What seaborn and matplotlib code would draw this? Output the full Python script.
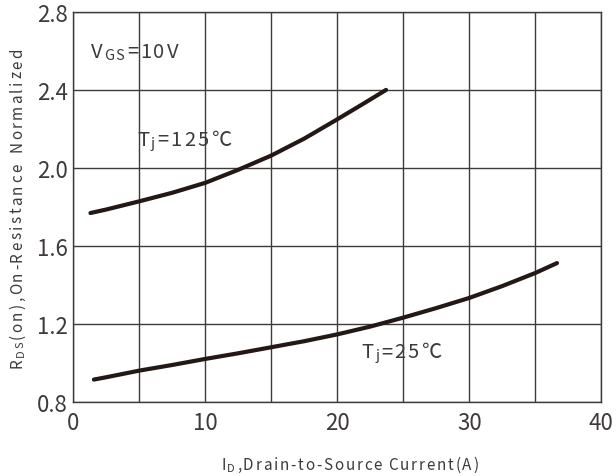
import matplotlib
matplotlib.use("Agg")
import matplotlib.pyplot as plt
import numpy as np
import pandas as pd
import seaborn as sns

# Drain current (A) and normalized on-resistance for each junction temperature
id_125 = [1.3, 2.5, 5.0, 7.5, 10.0, 12.5, 15.0, 17.5, 20.0, 22.0, 23.7]
rds_125 = [1.768, 1.786, 1.828, 1.872, 1.923, 1.99, 2.063, 2.15, 2.249, 2.33, 2.40]

id_25 = [1.56, 2.5, 5.0, 7.5, 10.0, 12.5, 15.0, 17.5, 20.0, 22.5, 25.0, 27.5, 30.0, 32.5, 35.0, 36.65]
rds_25 = [0.913, 0.925, 0.959, 0.988, 1.019, 1.048, 1.079, 1.11, 1.145, 1.185, 1.231, 1.28, 1.332, 1.393, 1.46, 1.511]

x_ticks = [0, 5, 10, 15, 20, 25, 30, 35, 40]
x_tick_labels = ["0", "", "10", "", "20", "", "30", "", "40"]
y_ticks = [0.8, 1.2, 1.6, 2.0, 2.4, 2.8]
y_tick_labels = ["0.8", "1.2", "1.6", "2.0", "2.4", "2.8"]

sns.set_style("white")
plt.rcParams["font.family"] = ["Noto Sans CJK SC", "DejaVu Sans"]

INK = "#231815"
GRID = "#3e3a39"
TEXT = "#3e3a39"

df = pd.concat([
    pd.DataFrame({"ID": id_125, "RDS": rds_125, "Tj": "125"}),
    pd.DataFrame({"ID": id_25, "RDS": rds_25, "Tj": "25"}),
])

fig = plt.figure(figsize=(6.16, 4.77), dpi=100)
ax = fig.add_axes([0.119, 0.156, 0.857, 0.8168])

sns.lineplot(data=df, x="ID", y="RDS", units="Tj", estimator=None,
             color=INK, linewidth=3.0, ax=ax, legend=False, sort=False)

ax.set_xlim(0, 40)
ax.set_ylim(0.8, 2.8)
ax.set_xticks(x_ticks)
ax.set_xticklabels(x_tick_labels)
ax.set_yticks(y_ticks)
ax.set_yticklabels(y_tick_labels)
ax.tick_params(axis="both", length=0, labelsize=16, labelcolor=TEXT)
ax.tick_params(axis="x", pad=7)
ax.tick_params(axis="y", pad=4)
ax.grid(True, color=GRID, linewidth=1.0)
ax.set_axisbelow(True)
for s in ax.spines.values():
    s.set_color(GRID)
    s.set_linewidth(1.0)
ax.set_xlabel("")
ax.set_ylabel("")


def spaced_text(parts, x, y, transform, vertical=False):
    """Draw letter-spaced text made of (string, fontsize, tracking) pieces.

    Returns the list of text artists; the first one carries the position.
    """
    artists = []
    prev = None
    gap = 0.0
    for s, size, track in parts:
        for ch in s:
            if ch == " ":
                gap += 0.3 * size
                continue
            if prev is None:
                if vertical:
                    prev = fig.text(x, y, ch, fontsize=size, color=TEXT, transform=transform,
                                    rotation=90, ha="right", va="bottom")
                else:
                    prev = fig.text(x, y, ch, fontsize=size, color=TEXT, transform=transform,
                                    ha="left", va="baseline")
            else:
                off = track + gap
                if vertical:
                    prev = ax.annotate(ch, xy=(1, 1), xycoords=prev, xytext=(0, off),
                                       textcoords="offset points", fontsize=size, color=TEXT,
                                       rotation=90, ha="right", va="bottom",
                                       annotation_clip=False)
                else:
                    prev = ax.annotate(ch, xy=(1, 0), xycoords=prev, xytext=(off, 0),
                                       textcoords="offset points", fontsize=size, color=TEXT,
                                       ha="left", va="bottom", annotation_clip=False)
            gap = 0.0
            artists.append(prev)
    return artists


# In-plot annotations
spaced_text([("V", 14.5, 1.9), ("GS", 10.5, 1.0), ("=", 14.5, 1.9), ("10V", 14.5, 1.5)],
            1.34, 2.57, ax.transData)
spaced_text([("T", 14.5, 1.8), ("j", 10.5, 1.0), ("=", 14.5, 1.8), ("125℃", 14.5, 1.6)],
            4.83, 2.118, ax.transData)
spaced_text([("T", 14.5, 1.6), ("j", 10.5, 1.0), ("=", 14.5, 1.6), ("25℃", 14.5, 1.4)],
            21.85, 1.027, ax.transData)

# Axis titles
spaced_text([("I", 11, 1.3), ("D", 8, 0.8), (",Drain-to-Source Current(A)", 11, 1.3)],
            0.360, 0.0147, fig.transFigure)
spaced_text([("R", 11, 1.7), ("DS", 8, 0.9), ("(on),On-Resistance  Normalized", 11, 1.7)],
            0.042, 0.2285, fig.transFigure, vertical=True)

fig.savefig("out.png", dpi=100)
